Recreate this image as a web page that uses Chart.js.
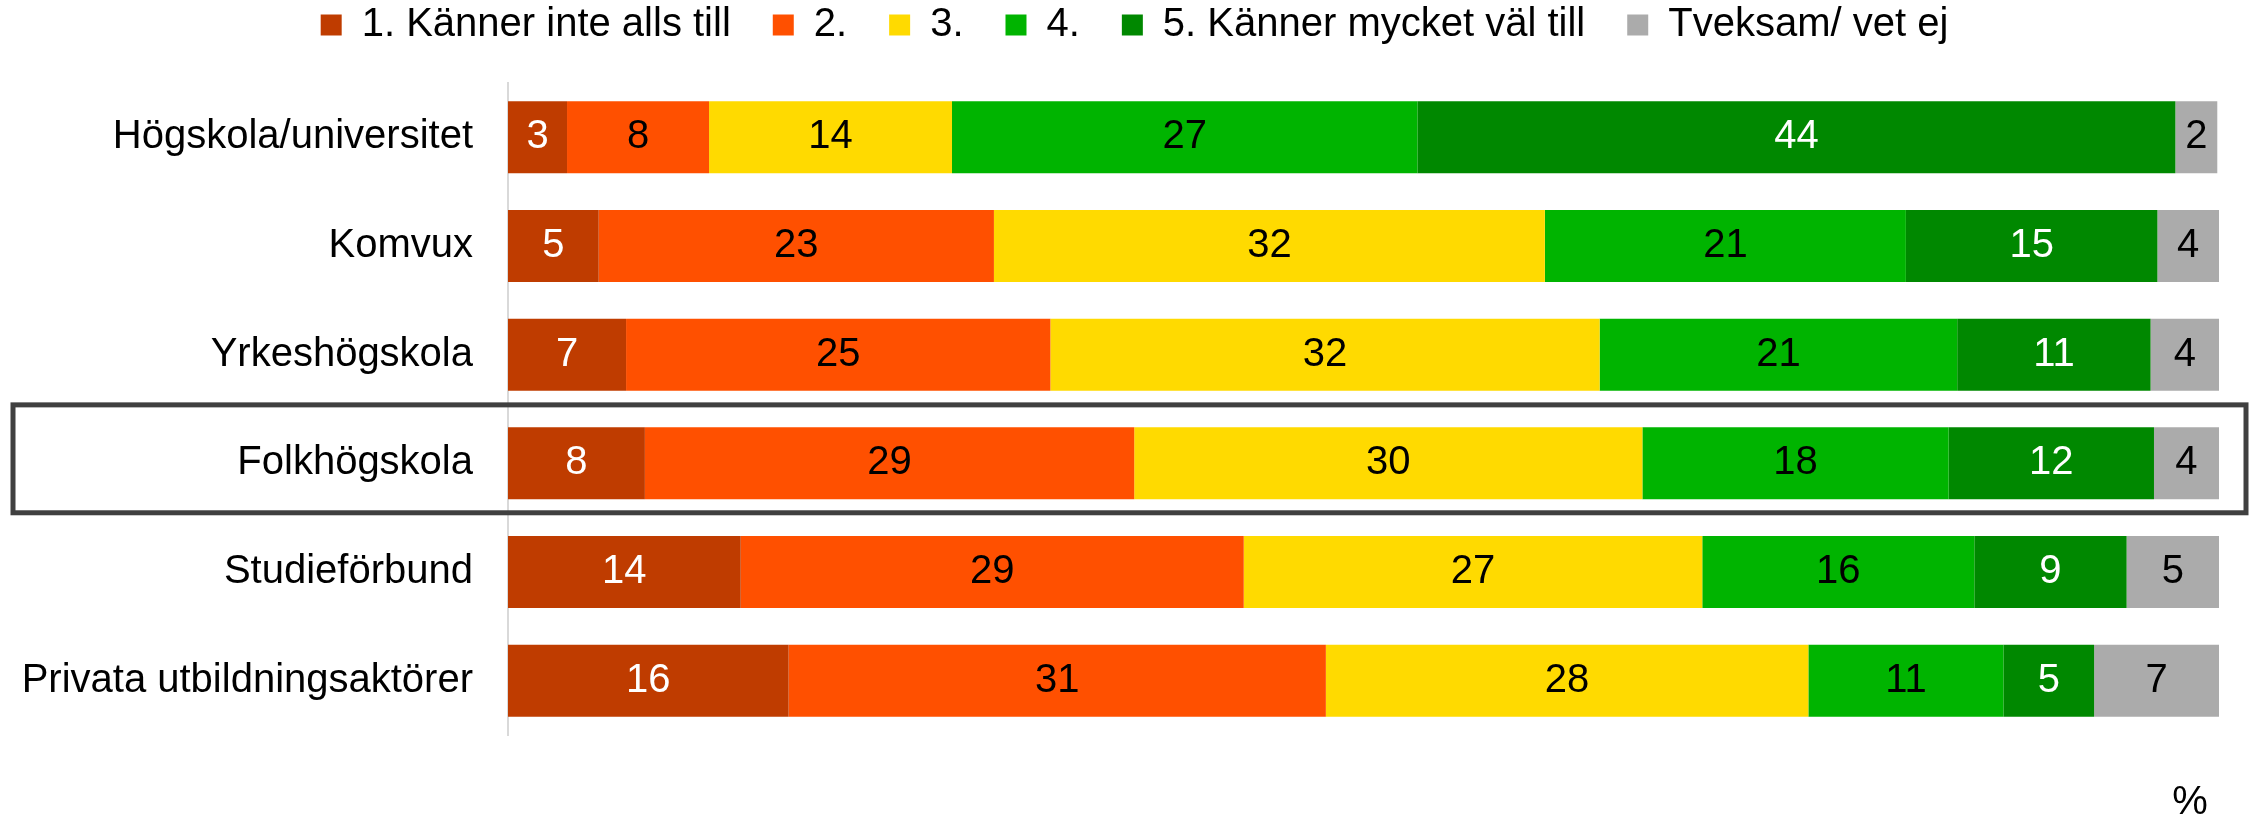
<!DOCTYPE html>
<html>
<head>
<meta charset="utf-8">
<script src="https://cdn.jsdelivr.net/npm/chart.js@4/dist/chart.umd.min.js"></script>
<style>
  html, body { margin: 0; padding: 0; background: #ffffff; }
  #wrap { width: 2251px; height: 825px; }
</style>
</head>
<body>
<div id="wrap"><canvas id="c" width="2251" height="825"></canvas></div>
<script>
// ---- Data ----
const categories = ['Högskola/universitet', 'Komvux', 'Yrkeshögskola', 'Folkhögskola', 'Studieförbund', 'Privata utbildningsaktörer'];
const seriesNames = ['1. Känner inte alls till', '2.', '3.', '4.', '5. Känner mycket väl till', 'Tveksam/ vet ej'];
const s1 = [3.45, 5.3, 6.9, 8.0, 13.6, 16.4];
const s2 = [8.3, 23.1, 24.8, 28.6, 29.4, 31.4];
const s3 = [14.2, 32.2, 32.1, 29.7, 26.8, 28.2];
const s4 = [27.2, 21.1, 20.9, 17.9, 15.9, 11.4];
const s5 = [44.3, 14.7, 11.3, 12.0, 8.9, 5.3];
const s6 = [2.45, 3.6, 4.0, 3.8, 5.4, 7.3];
const axisUnit = '%';
const highlightedCategory = 'Folkhögskola';

// ---- Styles ----
const colors = ['#BF3C00', '#FF5000', '#FFDA00', '#00B400', '#008800', '#ABABAB'];
const labelColors = ['#FFFFFF', '#000000', '#000000', '#000000', '#FFFFFF', '#000000'];
const FONT = '"Liberation Sans", Arial, Helvetica, sans-serif';

Chart.defaults.font.family = FONT;
Chart.defaults.font.size = 40;
Chart.defaults.color = '#000000';

const LAYOUT_TOP = -37;
const LAYOUT_LEFT = 12;
const LAYOUT_RIGHT = 32;
const PLOT_TOP = 83;
const PLOT_LEFT = 508;
const LEGEND_SHIFT = 19;

const seriesData = [s1, s2, s3, s4, s5, s6];
const datasets = seriesData.map((d, i) => ({
  label: seriesNames[i],
  data: d,
  backgroundColor: colors[i],
  borderWidth: 0,
  categoryPercentage: 1.0,
  barPercentage: 0.663
}));

const legendSpacer = {
  id: 'legendSpacer',
  beforeInit(chart) {
    const lg = chart.legend;
    if (!lg) return;
    const origFit = lg.fit;
    lg.fit = function () {
      origFit.call(this);
      this.height = PLOT_TOP - LAYOUT_TOP;
    };
  },
  afterLayout(chart) {
    const lg = chart.legend;
    if (!lg) return;
    lg.left += LEGEND_SHIFT;
    lg.right += LEGEND_SHIFT;
  }
};

const valueLabels = {
  id: 'valueLabels',
  afterDatasetsDraw(chart) {
    const ctx = chart.ctx;
    ctx.save();
    ctx.font = '40px ' + FONT;
    ctx.textAlign = 'center';
    ctx.textBaseline = 'middle';
    chart.data.datasets.forEach((ds, di) => {
      const meta = chart.getDatasetMeta(di);
      meta.data.forEach((el, i) => {
        const p = el.getCenterPoint();
        ctx.fillStyle = labelColors[di];
        ctx.fillText(String(Math.round(ds.data[i])), p.x, p.y);
      });
    });
    ctx.restore();
  }
};

const highlightBox = {
  id: 'highlightBox',
  afterDraw(chart) {
    const ys = chart.scales.y;
    const idx = categories.indexOf(highlightedCategory);
    if (idx < 0) return;
    const pitch = (ys.bottom - ys.top) / categories.length;
    const yc = ys.getPixelForValue(idx);
    const ctx = chart.ctx;
    ctx.save();
    ctx.strokeStyle = '#404040';
    ctx.lineWidth = 5;
    ctx.strokeRect(13, yc - 0.538 * pitch, chart.width - 5 - 13, 0.993 * pitch);
    ctx.restore();
  }
};

new Chart(document.getElementById('c'), {
  type: 'bar',
  data: { labels: categories, datasets: datasets },
  options: {
    responsive: false,
    devicePixelRatio: 1,
    animation: false,
    indexAxis: 'y',
    layout: { padding: { top: LAYOUT_TOP, left: LAYOUT_LEFT, right: LAYOUT_RIGHT, bottom: 0 } },
    plugins: {
      legend: {
        position: 'top',
        align: 'center',
        labels: {
          boxWidth: 21,
          boxHeight: 21,
          padding: 42,
          color: '#000000',
          font: { size: 40, family: FONT }
        }
      },
      tooltip: { enabled: false },
      title: { display: false }
    },
    scales: {
      x: {
        stacked: true,
        min: 0,
        max: 100,
        grid: { display: false, drawTicks: false },
        border: { display: false },
        ticks: { display: false },
        title: {
          display: true,
          text: axisUnit + ' ',
          align: 'end',
          color: '#000000',
          font: { size: 40, family: FONT, lineHeight: 1 },
          padding: { top: 48, bottom: 2 }
        },
        afterFit(s) { s.height = 90; }
      },
      y: {
        stacked: true,
        grid: { display: false, drawTicks: false },
        border: { display: true, color: '#D9D9D9', width: 2 },
        ticks: { color: '#000000', padding: 35, font: { size: 40, family: FONT } },
        afterFit(s) { s.width = PLOT_LEFT - LAYOUT_LEFT; }
      }
    }
  },
  plugins: [legendSpacer, valueLabels, highlightBox]
});
</script>
</body>
</html>
